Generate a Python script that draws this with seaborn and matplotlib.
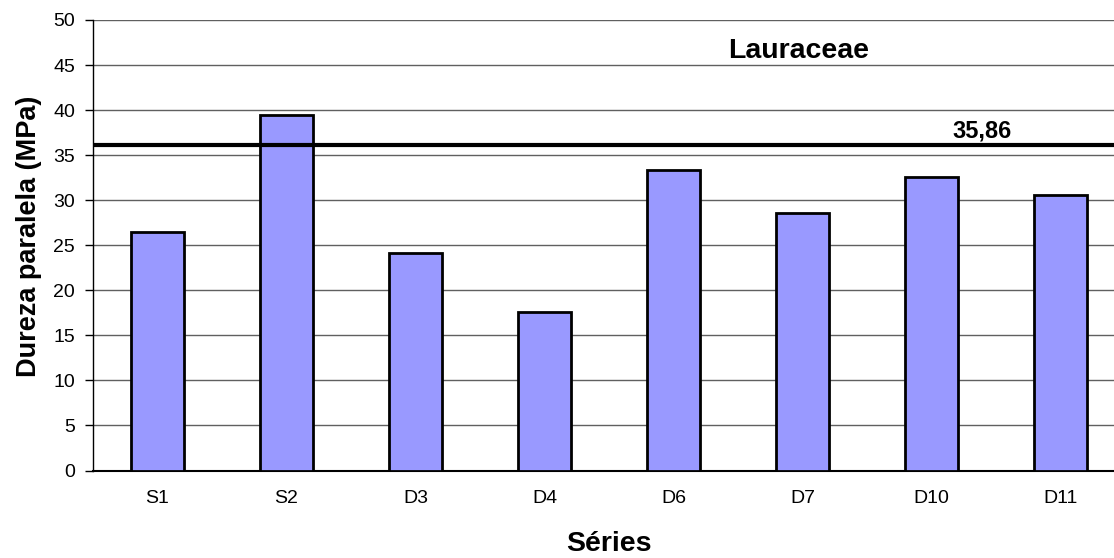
import numpy as np
import pandas as pd
import matplotlib
matplotlib.use("Agg")
import matplotlib.pyplot as plt
import seaborn as sns

series = ["S1", "S2", "D3", "D4", "D6", "D7", "D10", "D11"]
dureza = [26.5, 39.5, 24.1, 17.6, 33.4, 28.6, 32.6, 30.6]
media = 36.1
media_label = "35,86"
titulo = "Lauraceae"

df = pd.DataFrame({"Séries": series, "Dureza": dureza})

sns.set_style("white")
plt.rcParams["font.family"] = ["Liberation Sans", "DejaVu Sans"]
plt.rcParams["text.color"] = "black"
plt.rcParams["axes.labelcolor"] = "black"
plt.rcParams["xtick.color"] = "black"
plt.rcParams["ytick.color"] = "black"

fig = plt.figure(figsize=(11.14, 5.58), dpi=100)
ax = fig.add_axes([93 / 1114, 1 - 470.5 / 558, (1125 - 93) / 1114, (470.5 - 20) / 558])

sns.barplot(data=df, x="Séries", y="Dureza", order=series, color="#9999FF",
            saturation=1, width=0.405, edgecolor="black", linewidth=2, ax=ax, zorder=3)

ax.set_ylim(0, 50)
ax.set_xlim(-0.5, len(series) - 0.5)
ax.set_yticks(np.arange(0, 51, 5))
ax.yaxis.grid(True, color="#606060", linewidth=1)
ax.set_axisbelow(True)

# ticks on x axis sit between categories
ax.set_xticks(np.arange(len(series)))
ax.set_xticks(np.arange(-0.5, len(series), 1), minor=True)
ax.tick_params(axis="x", which="major", length=0, pad=14, labelsize=14)
ax.tick_params(axis="x", which="minor", length=6, width=1, direction="out")
ax.tick_params(axis="y", length=6, width=1, direction="out", labelsize=14, left=True, pad=7)

for s in ["top", "right"]:
    ax.spines[s].set_visible(False)
ax.spines["left"].set_color("black")
ax.spines["bottom"].set_color("black")
ax.spines["left"].set_linewidth(1)
ax.spines["bottom"].set_linewidth(1.5)

ax.axhline(media, color="black", linewidth=3, zorder=4)
ax.text(6.39, media + 0.35, media_label, ha="center", va="bottom", fontsize=17, fontweight="bold")
ax.text(4.97, 46.6, titulo, ha="center", va="center", fontsize=20.5, fontweight="bold")

ax.set_xlabel("Séries", fontsize=20.5, fontweight="bold", labelpad=17)
ax.set_ylabel("Dureza paralela (MPa)", fontsize=19.5, fontweight="bold", labelpad=8)
ax.yaxis.label.set_y(0.52)

fig.savefig("out.png", dpi=100)
